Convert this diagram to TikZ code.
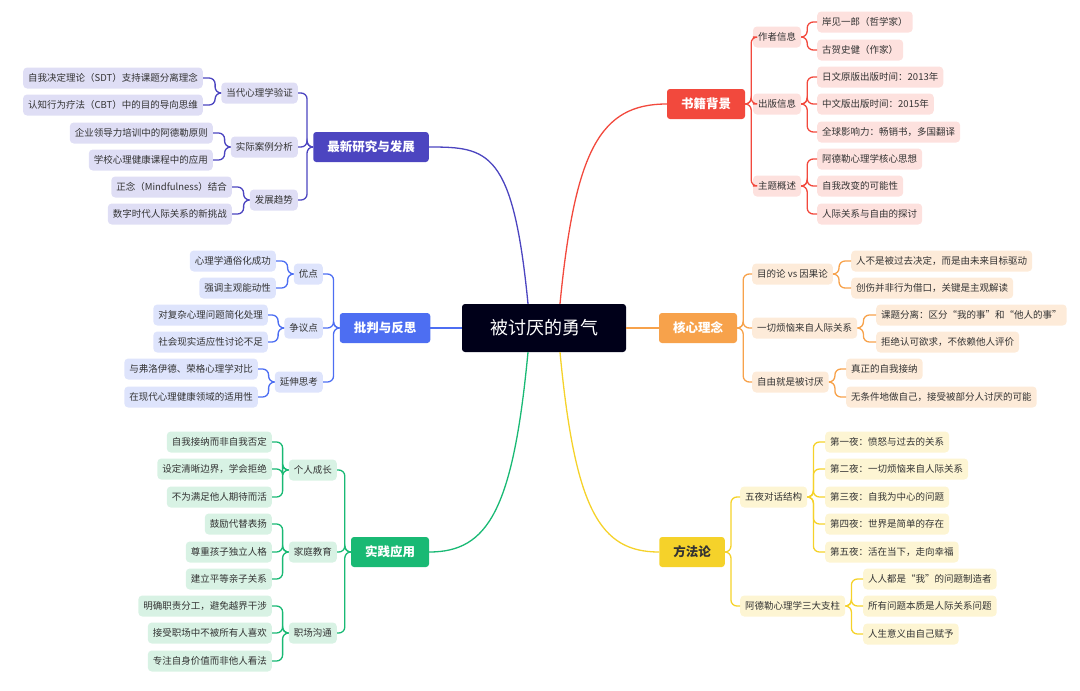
\documentclass[tikz,border=0pt]{standalone}
\usepackage{fontspec}
\setmainfont{Noto Sans CJK SC}
\usetikzlibrary{positioning}
\definecolor{cRed}{HTML}{F2493D}\definecolor{lRed}{HTML}{FDE1DE}
\definecolor{cOra}{HTML}{F7A24B}\definecolor{lOra}{HTML}{FDEBD9}
\definecolor{cYel}{HTML}{F5D22A}\definecolor{lYel}{HTML}{FDF5D3}
\definecolor{cInd}{HTML}{4C45C0}\definecolor{lInd}{HTML}{DFDEF5}
\definecolor{cBlu}{HTML}{4D6EF2}\definecolor{lBlu}{HTML}{DEE4FC}
\definecolor{cGre}{HTML}{19B974}\definecolor{lGre}{HTML}{D8F2E4}
\definecolor{txt}{HTML}{333333}
\tikzset{
root/.style={fill=black!90!blue, text=white, rounded corners=3pt, minimum width=164pt, minimum height=48pt, font=\fontsize{18}{20}\selectfont},
main/.style={fill=#1, text=white, rounded corners=3pt, minimum height=30pt, inner xsep=14pt, font=\fontsize{12.5}{14}\selectfont\bfseries},
sub/.style={fill=#1, text=txt, rounded corners=4pt, minimum height=21pt, inner xsep=5pt, font=\fontsize{9.5}{11}\selectfont},
br/.style={draw=#1, line width=1.3pt, rounded corners=6pt},
}
\newcommand\rconn[3]{\draw[br=#1] (#2.east) -- ++(6,0) |- (#3.west);}
\newcommand\lconn[3]{\draw[br=#1] (#2.west) -- ++(-6,0) |- (#3.east);}
\begin{document}
\begin{tikzpicture}[x=1pt,y=-1pt]
\useasboundingbox (0,0) rectangle (1080,691);
\node[root] (root) at (544,328) {被讨厌的勇气};

% right side
\node[main=cRed] (bg) at (706,104) {书籍背景};
\node[sub=lRed] (bg1) at (777,37) {作者信息};
\node[sub=lRed] (bg2) at (777,104) {出版信息};
\node[sub=lRed] (bg3) at (777,186) {主题概述};
\node[sub=lRed, anchor=west] (bg11) at (817,22) {岸见一郎（哲学家）};
\node[sub=lRed, anchor=west] (bg12) at (817,50) {古贺史健（作家）};
\node[sub=lRed, anchor=west] (bg21) at (817,77) {日文原版出版时间：2013年};
\node[sub=lRed, anchor=west] (bg22) at (817,104) {中文版出版时间：2015年};
\node[sub=lRed, anchor=west] (bg23) at (817,132) {全球影响力：畅销书，多国翻译};
\node[sub=lRed, anchor=west] (bg31) at (817,159) {阿德勒心理学核心思想};
\node[sub=lRed, anchor=west] (bg32) at (817,186) {自我改变的可能性};
\node[sub=lRed, anchor=west] (bg33) at (817,214) {人际关系与自由的探讨};
\foreach \c in {bg1,bg2,bg3} {\rconn{cRed}{bg}{\c}}
\foreach \a/\b in {bg1/bg11,bg1/bg12,bg2/bg21,bg2/bg22,bg2/bg23,bg3/bg31,bg3/bg32,bg3/bg33} {\rconn{cRed}{\a}{\b}}

\node[main=cOra] (core) at (698,328) {核心理念};
\node[sub=lOra, anchor=west] (core1) at (752,274) {目的论 vs 因果论};
\node[sub=lOra, anchor=west] (core2) at (752,328) {一切烦恼来自人际关系};
\node[sub=lOra, anchor=west] (core3) at (752,382) {自由就是被讨厌};
\node[sub=lOra, anchor=west] (core11) at (851,261) {人不是被过去决定，而是由未来目标驱动};
\node[sub=lOra, anchor=west] (core12) at (851,288) {创伤并非行为借口，关键是主观解读};
\node[sub=lOra, anchor=west] (core21) at (876,315) {课题分离：区分“我的事”和“他人的事”};
\node[sub=lOra, anchor=west] (core22) at (876,342) {拒绝认可欲求，不依赖他人评价};
\node[sub=lOra, anchor=west] (core31) at (846,369) {真正的自我接纳};
\node[sub=lOra, anchor=west] (core32) at (846,397) {无条件地做自己，接受被部分人讨厌的可能};
\foreach \c in {core1,core2,core3} {\rconn{cOra}{core}{\c}}
\foreach \a/\b in {core1/core11,core1/core12,core2/core21,core2/core22,core3/core31,core3/core32} {\rconn{cOra}{\a}{\b}}

\node[main=cYel, text=txt] (meth) at (692,552) {方法论};
\node[sub=lYel, anchor=west] (meth1) at (740,497) {五夜对话结构};
\node[sub=lYel, anchor=west] (meth2) at (740,606) {阿德勒心理学三大支柱};
\node[sub=lYel, anchor=west] (meth11) at (825,442) {第一夜：愤怒与过去的关系};
\node[sub=lYel, anchor=west] (meth12) at (825,469) {第二夜：一切烦恼来自人际关系};
\node[sub=lYel, anchor=west] (meth13) at (825,497) {第三夜：自我为中心的问题};
\node[sub=lYel, anchor=west] (meth14) at (825,524) {第四夜：世界是简单的存在};
\node[sub=lYel, anchor=west] (meth15) at (825,552) {第五夜：活在当下，走向幸福};
\node[sub=lYel, anchor=west] (meth21) at (863,579) {人人都是“我”的问题制造者};
\node[sub=lYel, anchor=west] (meth22) at (863,606) {所有问题本质是人际关系问题};
\node[sub=lYel, anchor=west] (meth23) at (863,634) {人生意义由自己赋予};
\foreach \c in {meth1,meth2} {\rconn{cYel}{meth}{\c}}
\foreach \a/\b in {meth1/meth11,meth1/meth12,meth1/meth13,meth1/meth14,meth1/meth15,meth2/meth21,meth2/meth22,meth2/meth23} {\rconn{cYel}{\a}{\b}}

% left side
\node[main=cInd] (res) at (371,147) {最新研究与发展};
\node[sub=lInd, anchor=east] (res1) at (298,93) {当代心理学验证};
\node[sub=lInd, anchor=east] (res2) at (298,147) {实际案例分析};
\node[sub=lInd, anchor=east] (res3) at (298,200) {发展趋势};
\node[sub=lInd, anchor=east] (res11) at (203,78) {自我决定理论（SDT）支持课题分离理念};
\node[sub=lInd, anchor=east] (res12) at (203,105) {认知行为疗法（CBT）中的目的导向思维};
\node[sub=lInd, anchor=east] (res21) at (213,133) {企业领导力培训中的阿德勒原则};
\node[sub=lInd, anchor=east] (res22) at (213,160) {学校心理健康课程中的应用};
\node[sub=lInd, anchor=east] (res31) at (232,187) {正念（Mindfulness）结合};
\node[sub=lInd, anchor=east] (res32) at (232,214) {数字时代人际关系的新挑战};
\foreach \c in {res1,res2,res3} {\lconn{cInd}{res}{\c}}
\foreach \a/\b in {res1/res11,res1/res12,res2/res21,res2/res22,res3/res31,res3/res32} {\lconn{cInd}{\a}{\b}}

\node[main=cBlu] (crit) at (385,328) {批判与反思};
\node[sub=lBlu, anchor=east] (crit1) at (323,274) {优点};
\node[sub=lBlu, anchor=east] (crit2) at (323,328) {争议点};
\node[sub=lBlu, anchor=east] (crit3) at (323,382) {延伸思考};
\node[sub=lBlu, anchor=east] (crit11) at (276,261) {心理学通俗化成功};
\node[sub=lBlu, anchor=east] (crit12) at (276,288) {强调主观能动性};
\node[sub=lBlu, anchor=east] (crit21) at (268,315) {对复杂心理问题简化处理};
\node[sub=lBlu, anchor=east] (crit22) at (268,342) {社会现实适应性讨论不足};
\node[sub=lBlu, anchor=east] (crit31) at (258,369) {与弗洛伊德、荣格心理学对比};
\node[sub=lBlu, anchor=east] (crit32) at (258,397) {在现代心理健康领域的适用性};
\foreach \c in {crit1,crit2,crit3} {\lconn{cBlu}{crit}{\c}}
\foreach \a/\b in {crit1/crit11,crit1/crit12,crit2/crit21,crit2/crit22,crit3/crit31,crit3/crit32} {\lconn{cBlu}{\a}{\b}}

\node[main=cGre] (prac) at (390,552) {实践应用};
\node[sub=lGre, anchor=east] (prac1) at (337,470) {个人成长};
\node[sub=lGre, anchor=east] (prac2) at (337,552) {家庭教育};
\node[sub=lGre, anchor=east] (prac3) at (337,633) {职场沟通};
\node[sub=lGre, anchor=east] (prac11) at (272,442) {自我接纳而非自我否定};
\node[sub=lGre, anchor=east] (prac12) at (272,469) {设定清晰边界，学会拒绝};
\node[sub=lGre, anchor=east] (prac13) at (272,497) {不为满足他人期待而活};
\node[sub=lGre, anchor=east] (prac21) at (272,524) {鼓励代替表扬};
\node[sub=lGre, anchor=east] (prac22) at (272,552) {尊重孩子独立人格};
\node[sub=lGre, anchor=east] (prac23) at (272,579) {建立平等亲子关系};
\node[sub=lGre, anchor=east] (prac31) at (272,606) {明确职责分工，避免越界干涉};
\node[sub=lGre, anchor=east] (prac32) at (272,633) {接受职场中不被所有人喜欢};
\node[sub=lGre, anchor=east] (prac33) at (272,661) {专注自身价值而非他人看法};
\foreach \c in {prac1,prac2,prac3} {\lconn{cGre}{prac}{\c}}
\foreach \a/\b in {prac1/prac11,prac1/prac12,prac1/prac13,prac2/prac21,prac2/prac22,prac2/prac23,prac3/prac31,prac3/prac32,prac3/prac33} {\lconn{cGre}{\a}{\b}}

% main branches
\draw[br=cRed] (root.north) ++(16,0) .. controls (575,150) and (600,104) .. (bg.west);
\draw[br=cOra] (root.east) -- (core.west);
\draw[br=cYel] (root.south) ++(16,0) .. controls (575,510) and (600,552) .. (meth.west);
\draw[br=cInd] (root.north) ++(-16,0) .. controls (513,150) and (488,147) .. (res.east);
\draw[br=cBlu] (root.west) -- (crit.east);
\draw[br=cGre] (root.south) ++(-16,0) .. controls (513,510) and (488,552) .. (prac.east);
\end{tikzpicture}
\end{document}
